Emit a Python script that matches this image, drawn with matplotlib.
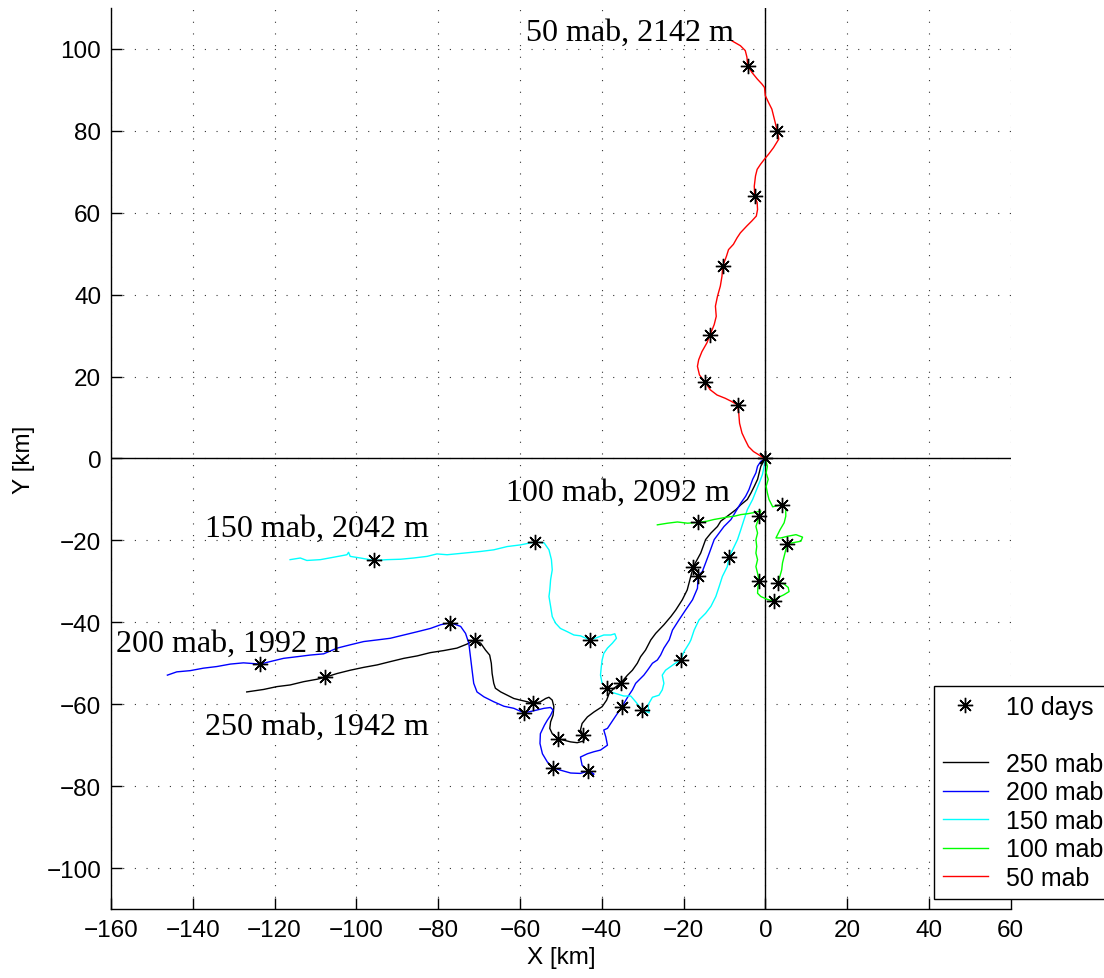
import matplotlib
matplotlib.use("Agg")
import matplotlib.pyplot as plt
from matplotlib.lines import Line2D

# ---------------- data (km) ----------------
red_x = [0, -0.8, -1.6, -2.9, -4.1, -4.9, -5.7, -6.3, -6.5, -6.8, -8.2, -9.8, -11.8, -13.5, -14.7,
         -16.1, -16.6, -16.3, -15.5, -14.3, -13.5, -12.5, -12.0, -12.2, -11.7, -11.0, -10.6, -10.4,
         -9.5, -9.0, -7.8, -6.9, -6.1, -4.5, -3.3, -2.2, -1.9, -2.0, -2.6, -2.7, -2.4, -2.0, -1.2,
         -0.2, 0.8, 2.0, 3.3, 2.9, 2.4, 2.0, 1.6, 0.8, 0.0, -0.2, -0.8, -2.0, -3.3, -4.3, -4.5, -4.9,
         -6.1, -8.2]
red_y = [0, 0.4, 0.9, 1.7, 2.9, 4.5, 6.2, 8.6, 11.1, 13.1, 13.9, 14.7, 15.5, 16.8, 18.6,
         20.4, 22.5, 24.1, 26.1, 28.2, 30.2, 32.7, 34.7, 37.2, 39.6, 42.1, 44.5, 47.0,
         49.4, 51.0, 52.3, 53.9, 55.1, 56.8, 58.0, 59.2, 60.8, 62.5, 64.1, 66.5, 69.0, 70.6, 71.8,
         73.1, 74.3, 75.9, 78.0, 80.0, 82.1, 83.7, 85.3, 86.9, 88.6, 90.6, 91.4, 92.7, 94.3, 95.9, 98.0, 99.6,
         100.8, 102.0]

green_x = [0, 0.5, 0.2, 0.7, 0.2, 0.5, 0.9, 1.8, 3.0, 4.0, 4.6, 5.0, 5.0, 4.6, 3.6, 3.0, 2.6, 3.8,
           5.4, 7.5, 9.1, 8.7, 7.1, 5.3, 5.0, 4.6, 4.2, 4.0, 3.5, 3.0, 4.4, 5.6, 5.8, 4.5, 3.0, 2.0,
           0.5, -1.1, -1.9, -1.8, -1.5, -1.9, -2.3, -1.9, -2.3, -2.1, -2.3, -1.9, -2.3, -1.5, -1.1,
           -2.7, -4.4, -6.0, -7.6, -9.3, -10.9, -12.6, -14.2, -16.4, -19.0, -21.5, -23.9, -26.4]
green_y = [0, -1.9, -3.5, -5.1, -6.8, -8.4, -10.0, -11.8, -11.5, -11.3, -11.8, -12.5, -14.1, -15.7,
           -17.4, -18.6, -19.4, -19.4, -19.0, -18.6, -19.2, -20.2, -20.5, -20.8, -22.3, -23.9, -25.5,
           -27.2, -29.0, -30.4, -30.5, -31.5, -32.5, -33.3, -34.0, -34.8, -34.4, -33.7, -32.9, -31.3,
           -30.0, -28.0, -26.4, -24.7, -23.1, -21.5, -19.8, -18.2, -16.6, -14.1, -12.8,
           -13.2, -13.5, -13.7, -14.1, -14.3, -14.6, -14.9, -15.3, -15.6, -15.8, -15.5, -15.8, -16.2]

cyan_x = [0, -0.3, -0.7, -1.5, -2.3, -3.1, -4.4, -5.2, -6.0, -6.8, -8.0, -8.9, -9.3, -10.5, -11.3,
          -12.1, -13.3, -14.6, -16.2, -17.4, -18.2, -18.6, -19.9, -20.7, -22.3, -24.4, -25.2, -24.8,
          -25.2, -26.0, -27.6, -28.7, -28.4, -30.1, -31.7, -32.9, -34.6, -36.2, -37.8, -38.6, -39.9,
          -40.3, -40.1, -39.9, -39.5, -38.6, -37.4, -36.4, -36.8, -37.8, -39.5, -41.1, -42.9, -45.2,
          -46.8, -48.4, -50.1, -51.3, -52.1, -52.5, -52.9, -52.7, -52.5, -52.1, -52.3, -52.9, -54.1,
          -56.4, -59.9, -63.1, -66.4, -69.6, -73.7, -77.8, -80.3, -82.7, -86.0, -89.2, -92.5, -95.6,
          -99.0, -101.5, -101.9, -102.3, -105.5, -108.8, -112.1, -113.7, -116.2]
cyan_y = [0, -1.9, -3.9, -6.0, -8.0, -10.0, -12.5, -14.9, -17.4, -19.8, -22.3, -24.1, -26.4, -28.8,
          -31.3, -33.7, -36.1, -37.8, -39.4, -41.9, -44.3, -45.1, -47.2, -49.2, -50.2, -51.7, -52.9,
          -54.9, -56.5, -57.8, -58.3, -60.2, -62.1, -61.4, -59.4, -58.0, -58.0, -57.5, -57.0, -56.1,
          -54.9, -52.9, -50.8, -49.2, -47.6, -46.3, -45.1, -43.9, -42.8, -43.1, -43.1, -43.7, -44.3,
          -43.3, -43.1, -42.3, -41.5, -40.2, -38.6, -36.1, -33.7, -32.1, -29.6, -27.2, -24.7, -22.3,
          -20.6, -20.4, -21.1, -21.5, -22.3, -22.7, -23.1, -23.5, -23.3, -23.9, -24.3, -24.6, -24.7,
          -24.9, -24.3, -23.9, -22.9, -23.5, -24.1, -24.7, -24.9, -24.3, -24.7]

blue_x = [0, -1.1, -1.9, -2.3, -3.1, -4.0, -4.8, -6.0, -7.2, -8.4, -10.1, -11.3, -12.5, -13.7,
          -14.6, -15.4, -16.4, -16.6, -17.8, -19.5, -21.1, -22.7, -23.5, -24.8, -25.6, -26.4, -27.6,
          -28.8, -29.7, -30.5, -31.7, -32.5, -33.3, -34.1, -35.0, -36.2, -37.0, -37.8, -38.6, -39.5,
          -39.0, -38.6, -40.3, -41.9, -43.5, -45.2, -44.8, -43.5, -41.9, -43.3, -45.2, -47.6, -50.1,
          -51.9, -53.3, -54.5, -55.1, -55.0, -54.0, -53.3, -52.5, -51.9, -52.5, -54.1, -56.6, -59.0,
          -61.5, -63.9, -66.4, -68.8, -70.5, -71.3, -71.7, -72.1, -72.5, -73.3, -74.5, -77.0, -79.4,
          -81.9, -85.1, -88.4, -91.7, -94.9, -98.2, -101.5, -104.7, -108.0, -111.3, -114.5, -117.8,
          -121.1, -123.5, -127.6, -130.8, -134.1, -137.4, -140.6, -143.9, -146.2]
blue_y = [0, -0.7, -1.9, -3.5, -5.1, -7.6, -9.2, -10.9, -12.9, -14.9, -16.6, -18.2, -19.8, -23.1,
          -25.5, -27.6, -28.6, -31.7, -34.5, -37.0, -39.4, -41.9, -44.3, -46.3, -48.0, -49.2, -50.0,
          -51.7, -52.9, -53.7, -54.9, -56.5, -57.7, -59.0, -60.6, -62.3, -63.5, -64.7, -65.9, -66.3,
          -68.0, -70.0, -71.2, -71.6, -72.1, -72.9, -74.9, -76.1, -77.1, -76.3, -76.9, -76.8, -76.1,
          -75.5, -74.1, -72.1, -69.6, -67.2, -65.1, -63.9, -62.7, -61.4, -60.8, -61.0, -61.6, -62.1,
          -61.0, -60.5, -59.4, -58.2, -57.0, -54.9, -51.7, -48.4, -45.1, -42.7, -41.0, -40.1, -40.6,
          -41.5, -42.3, -43.1, -43.9, -44.3, -44.7, -45.5, -46.3, -47.7, -48.0, -48.4, -48.8,
          -49.6, -50.2, -49.9, -50.2, -50.8, -51.2, -51.8, -52.1, -52.9]

black_x = [0, -0.4, -1.1, -1.5, -1.9, -2.7, -3.5, -4.4, -6.0, -7.2, -9.3, -10.9, -11.7, -13.3, -14.6,
           -15.8, -17.6, -19.1, -20.3, -21.9, -23.1, -24.8, -26.8, -28.0, -29.3, -30.5, -31.3, -32.5,
           -33.7, -35.4, -37.0, -38.2, -38.8, -39.9, -41.9, -43.5, -44.8, -45.2, -44.5, -43.9, -44.5,
           -46.0, -47.6, -49.2, -50.7, -52.1, -52.7, -52.5, -51.9, -51.7, -52.1, -52.9, -53.7, -55.0,
           -56.8, -58.2, -59.9, -61.5, -63.1, -64.7, -66.0, -66.4, -66.8, -67.0, -67.4, -68.4, -69.6,
           -71.1, -72.9, -75.4, -78.6, -81.9, -85.1, -88.4, -91.7, -94.9, -98.2, -101.5, -104.7,
           -107.6, -109.6, -112.9, -116.2, -119.4, -122.7, -126.8]
black_y = [0, -0.7, -1.9, -3.5, -5.1, -6.8, -8.4, -10.0, -11.3, -12.5, -14.1, -15.3, -16.6, -18.2,
           -19.8, -23.1, -26.4, -32.1, -34.5, -37.0, -38.6, -40.6, -42.7, -44.3, -46.8, -48.4, -50.0,
           -51.7, -52.9, -54.9, -56.1, -57.4, -59.0, -60.6, -61.9, -63.1, -64.7, -66.3, -67.6, -68.0,
           -69.0, -69.4, -69.2, -68.8, -68.4, -67.2, -65.9, -64.3, -62.7, -60.6, -59.0, -58.3, -58.6,
           -59.4, -59.8, -59.4, -59.0, -58.6, -57.8, -57.0, -56.1, -54.9, -52.5, -50.0, -48.0, -46.8,
           -45.1, -44.3, -45.3, -46.3, -46.9, -47.4, -48.2, -48.8, -49.6, -50.4, -51.0, -51.7, -52.5,
           -53.4, -53.9, -54.5, -55.3, -55.7, -56.4, -57.0]

# 10-day markers
star_x = [0, -6.8, -14.7, -13.5, -10.4, -2.6, 2.9, -4.3,
          4.0, 5.3, 3.0, 2.0, -1.5, -1.5, -16.4,
          -8.9, -20.7, -30.1, -38.6, -42.9, -56.4, -95.6,
          -16.4, -35.0, -43.3, -51.9, -59.0, -77.0, -123.5,
          -17.6, -35.4, -44.5, -50.7, -56.8, -71.1, -107.6]
star_y = [0, 13.1, 18.6, 30.2, 47.0, 64.1, 80.0, 95.9,
          -11.3, -20.8, -30.4, -34.8, -30.0, -14.1, -15.6,
          -24.1, -49.2, -61.4, -56.1, -44.3, -20.4, -24.9,
          -28.6, -60.6, -76.3, -75.5, -62.1, -40.1, -50.2,
          -26.4, -54.9, -67.6, -68.4, -59.8, -44.3, -53.4]

series_labels = ["250 mab", "200 mab", "150 mab", "100 mab", "50 mab"]
series_colors = ["#000000", "#0000ff", "#00ffff", "#00ff00", "#ff0000"]
annot_text = ["250 mab, 1942 m", "200 mab, 1992 m", "150 mab, 2042 m",
              "100 mab, 2092 m", "50 mab, 2142 m"]
annot_x = [-137.0, -158.7, -137.0, -63.5, -58.6]
annot_y = [-67.3, -46.9, -18.8, -10.0, 102.2]
xticks = list(range(-160, 61, 20))
yticks = list(range(-100, 101, 20))

# ---------------- plot ----------------
plt.rcParams['font.family'] = ['Liberation Sans', 'DejaVu Sans']
fig = plt.figure(figsize=(11.04, 9.79), dpi=100)
ax = fig.add_axes([0.1005, 0.0705, 0.815, 0.9203])

xs = [black_x, blue_x, cyan_x, green_x, red_x]
ys = [black_y, blue_y, cyan_y, green_y, red_y]
handles = []
for x, y, c, lab in zip(xs, ys, series_colors, series_labels):
    h, = ax.plot(x, y, color=c, lw=1.0, label=lab, zorder=3)
    handles.append(h)

ax.axhline(0, color='k', lw=1.0, zorder=2)
ax.axvline(0, color='k', lw=1.0, zorder=2)

ax.plot(star_x, star_y, linestyle='none', marker=(8, 2, 0), color='k',
        markersize=11, mew=1.0, zorder=4)

for t, x, y in zip(annot_text, annot_x, annot_y):
    ax.text(x, y, t, fontsize=23, family=['Liberation Serif', 'DejaVu Serif'],
            ha='left', va='baseline', zorder=5)

ax.set_xlim(-160, 60)
ax.set_ylim(-110, 110)
ax.set_xticks(xticks)
ax.set_yticks(yticks)
ax.tick_params(direction='in', length=8, width=1, labelsize=17.5, pad=7,
               top=False, right=False)
for s in ['top', 'right']:
    ax.spines[s].set_visible(False)
for s in ['left', 'bottom']:
    ax.spines[s].set_linewidth(1.0)
ax.grid(True, color='k', lw=0.8, linestyle=(0, (1, 9.5)), alpha=0.8)
ax.set_axisbelow(True)
ax.set_xlabel("X [km]", fontsize=17.5, labelpad=4)
ax.set_ylabel("Y [km]", fontsize=17.5, labelpad=8)

star_h = Line2D([], [], linestyle='none', marker=(8, 2, 0), color='k',
                markersize=11, mew=1.0)
blank_h = Line2D([], [], linestyle='none')
leg = fig.legend([star_h, blank_h] + handles, ["10 days", " "] + series_labels,
                 loc='upper left', bbox_to_anchor=(934 / 1104, 1 - 687 / 979),
                 bbox_transform=fig.transFigure, borderaxespad=0,
                 fontsize=18, frameon=True, fancybox=False, shadow=False,
                 handlelength=1.8, handletextpad=0.75, labelspacing=0.18,
                 borderpad=0.35)
leg.get_frame().set_edgecolor('k')
leg.get_frame().set_linewidth(1.0)
leg.get_frame().set_alpha(1)

fig.savefig("out.png", dpi=100)
